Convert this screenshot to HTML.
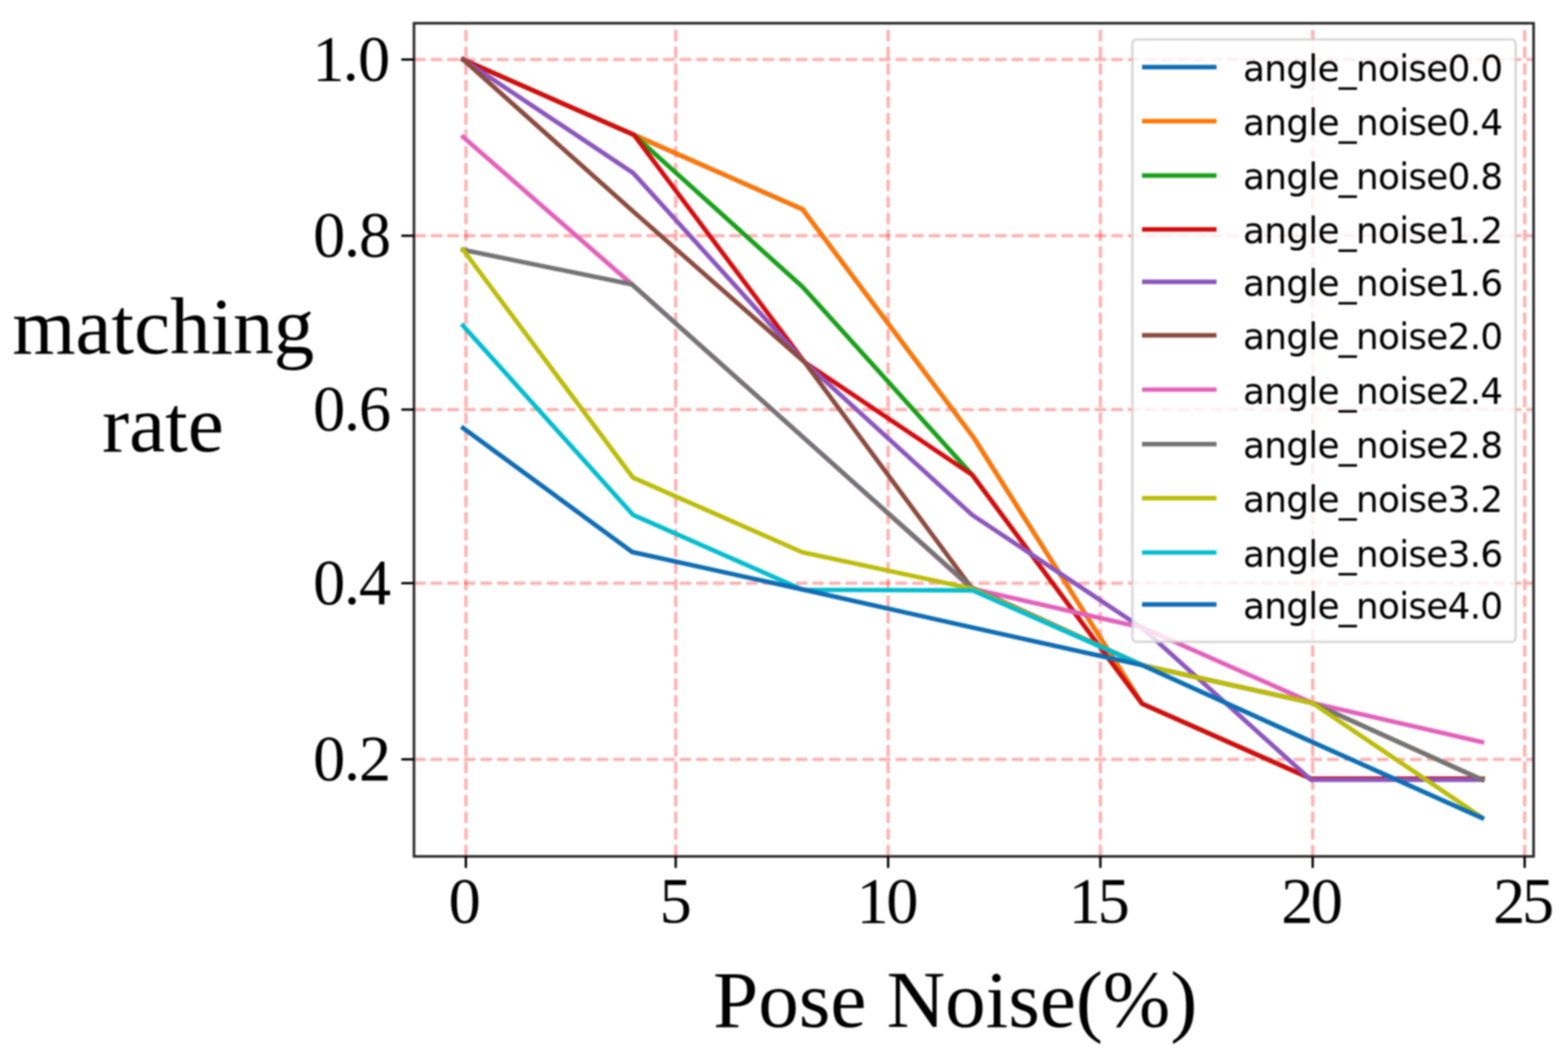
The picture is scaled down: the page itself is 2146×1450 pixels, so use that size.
<!DOCTYPE html><html><head><meta charset="utf-8"><style>html,body{margin:0;padding:0;background:#fff;overflow:hidden}svg{display:block;filter:blur(0.8px)}</style></head><body>
<svg width="2146" height="1450" viewBox="0 0 2146 1450">
<rect width="2146" height="1450" fill="#fff"/>
<g stroke="rgba(255,0,0,0.3)" stroke-width="4.6" fill="none">
<line x1="566.6" y1="81.5" x2="2098.9" y2="81.5" stroke-dasharray="15.86 6.86"/>
<line x1="566.6" y1="322.8" x2="2098.9" y2="322.8" stroke-dasharray="15.86 6.86"/>
<line x1="566.6" y1="560.8" x2="2098.9" y2="560.8" stroke-dasharray="15.86 6.86"/>
<line x1="566.6" y1="798.5" x2="2098.9" y2="798.5" stroke-dasharray="15.86 6.86"/>
<line x1="566.6" y1="1039.7" x2="2098.9" y2="1039.7" stroke-dasharray="15.86 6.86"/>
<line x1="637.6" y1="1172.6" x2="637.6" y2="31.8" stroke-dasharray="15.9 6.87"/>
<line x1="924.8" y1="1172.6" x2="924.8" y2="31.8" stroke-dasharray="15.9 6.87"/>
<line x1="1215.5" y1="1172.6" x2="1215.5" y2="31.8" stroke-dasharray="15.9 6.87"/>
<line x1="1506" y1="1172.6" x2="1506" y2="31.8" stroke-dasharray="15.9 6.87"/>
<line x1="1796.55" y1="1172.6" x2="1796.55" y2="31.8" stroke-dasharray="15.9 6.87"/>
<line x1="2086.7" y1="1172.6" x2="2086.7" y2="31.8" stroke-dasharray="15.9 6.87"/>
</g>
<g fill="none" stroke-width="6.2" stroke-linecap="square" stroke-linejoin="round">
<path stroke="#0f6db4" d="M633.8 81.5 L867.6 184.7 L1098.5 286.7 L1332.8 599.5 L1563 963.5 L1794 1066 L2029 1066"/>
<path stroke="#ff7806" d="M633.8 81.5 L867.6 184.7 L1098.5 286.7 L1332.8 599.5 L1563 963.5 L1794 1066 L2029 1066"/>
<path stroke="#1aa01a" d="M633.8 81.5 L867.6 184.7 L1098.5 392.9 L1330.6 650.2 L1563 963.5 L1794 1066 L2029 1066"/>
<path stroke="#d60c10" d="M633.8 81.5 L867.6 184.7 L1101.4 496.1 L1330.6 650.2 L1563 963.5 L1794 1066 L2029 1066"/>
<path stroke="#8c56bd" d="M633.8 81.5 L866.6 236.9 L1101.4 496.1 L1330.5 705 L1564 860.5 L1794 1067.6 L2029 1067.6"/>
<path stroke="#8c4b3e" d="M633.8 81.5 L866 289 L1101.4 496.1 L1329 804 L1564 911 L1796 962.5 L2028.3 1067.6"/>
<path stroke="#e361bb" d="M633.8 187.5 L865 389.4 L1097 596.7 L1330 806 L1564 859.5 L1796 962.5 L2028.3 1016"/>
<path stroke="#747474" d="M633.8 342 L865 389.4 L1097 596.7 L1329 804 L1564 911 L1796 962.5 L2028.3 1067.6"/>
<path stroke="#bcbd0a" d="M633.8 342 L866.2 653.8 L1097.6 756 L1330 806 L1564 911 L1796 962.5 L2028.3 1119.3"/>
<path stroke="#05bccf" d="M633.8 446 L866.2 704.8 L1098.5 807.5 L1331.3 808.5 L1564 911 L1796 1016 L2028.3 1120"/>
<path stroke="#0f6db4" d="M633.8 586 L865.5 755.9 L1098.5 807.1 L1330 859 L1564 911 L1796 1016 L2028.3 1120"/>
</g>
<rect x="566.6" y="31.8" width="1532.3" height="1140.8" fill="none" stroke="#262626" stroke-width="3.5" stroke-linejoin="miter"/>
<g stroke="#000" stroke-width="3.2">
<line x1="549.3" y1="81.5" x2="566.6" y2="81.5"/>
<line x1="549.3" y1="322.8" x2="566.6" y2="322.8"/>
<line x1="549.3" y1="560.8" x2="566.6" y2="560.8"/>
<line x1="549.3" y1="798.5" x2="566.6" y2="798.5"/>
<line x1="549.3" y1="1039.7" x2="566.6" y2="1039.7"/>
<line x1="637.6" y1="1172.6" x2="637.6" y2="1188.4"/>
<line x1="924.8" y1="1172.6" x2="924.8" y2="1188.4"/>
<line x1="1215.5" y1="1172.6" x2="1215.5" y2="1188.4"/>
<line x1="1506" y1="1172.6" x2="1506" y2="1188.4"/>
<line x1="1796.55" y1="1172.6" x2="1796.55" y2="1188.4"/>
<line x1="2086.7" y1="1172.6" x2="2086.7" y2="1188.4"/>
</g>
<g font-family="'Liberation Serif', 'Times New Roman', serif" font-size="88" fill="#000">
<text x="427.5 469 490" y="110.1">1.0</text>
<text x="428.4 470.8 491.3" y="351.4">0.8</text>
<text x="428.4 470.8 491.3" y="589.4">0.6</text>
<text x="428.4 470.8 491.3" y="827.1">0.4</text>
<text x="428.4 470.8 491.3" y="1068.3">0.2</text>
<text x="614" y="1263">0</text>
<text x="902.7" y="1263">5</text>
<text x="1172.3 1213" y="1263">10</text>
<text x="1462.6 1502.2" y="1263">15</text>
<text x="1753.4 1794" y="1263">20</text>
<text x="2043.6 2083" y="1263">25</text>
</g>
<g font-family="'Liberation Serif', 'Times New Roman', serif" font-size="111" fill="#000">
<text x="223.5" y="483.7" text-anchor="middle">matching</text>
<text x="223" y="617.8" text-anchor="middle">rate</text>
<text x="1307.4" y="1406" text-anchor="middle">Pose Noise(%)</text>
</g>
<rect x="1549.8" y="54" width="524.6" height="824.8" rx="6" ry="6" fill="#fff" fill-opacity="0.8" stroke="#cccccc" stroke-opacity="0.8" stroke-width="3.2"/>
<g font-family="'DejaVu Sans', sans-serif" font-size="49" fill="#000">
<line x1="1563" y1="91.9" x2="1665" y2="91.9" stroke="#0f6db4" stroke-width="6.2"/>
<text x="1701.3" y="110.9" textLength="355.9" lengthAdjust="spacing">angle_noise0.0</text>
<line x1="1563" y1="165.9" x2="1665" y2="165.9" stroke="#ff7806" stroke-width="6.2"/>
<text x="1701.3" y="184.9" textLength="355.9" lengthAdjust="spacing">angle_noise0.4</text>
<line x1="1563" y1="240.3" x2="1665" y2="240.3" stroke="#1aa01a" stroke-width="6.2"/>
<text x="1701.3" y="259.3" textLength="355.9" lengthAdjust="spacing">angle_noise0.8</text>
<line x1="1563" y1="314.2" x2="1665" y2="314.2" stroke="#d60c10" stroke-width="6.2"/>
<text x="1701.3" y="333.2" textLength="355.9" lengthAdjust="spacing">angle_noise1.2</text>
<line x1="1563" y1="385.8" x2="1665" y2="385.8" stroke="#8c56bd" stroke-width="6.2"/>
<text x="1701.3" y="404.8" textLength="355.9" lengthAdjust="spacing">angle_noise1.6</text>
<line x1="1563" y1="459.1" x2="1665" y2="459.1" stroke="#8c4b3e" stroke-width="6.2"/>
<text x="1701.3" y="478.1" textLength="355.9" lengthAdjust="spacing">angle_noise2.0</text>
<line x1="1563" y1="533.5" x2="1665" y2="533.5" stroke="#e361bb" stroke-width="6.2"/>
<text x="1701.3" y="552.5" textLength="355.9" lengthAdjust="spacing">angle_noise2.4</text>
<line x1="1563" y1="608.1" x2="1665" y2="608.1" stroke="#747474" stroke-width="6.2"/>
<text x="1701.3" y="627.1" textLength="355.9" lengthAdjust="spacing">angle_noise2.8</text>
<line x1="1563" y1="682.1" x2="1665" y2="682.1" stroke="#bcbd0a" stroke-width="6.2"/>
<text x="1701.3" y="701.1" textLength="355.9" lengthAdjust="spacing">angle_noise3.2</text>
<line x1="1563" y1="756.5" x2="1665" y2="756.5" stroke="#05bccf" stroke-width="6.2"/>
<text x="1701.3" y="775.5" textLength="355.9" lengthAdjust="spacing">angle_noise3.6</text>
<line x1="1563" y1="827.7" x2="1665" y2="827.7" stroke="#0f6db4" stroke-width="6.2"/>
<text x="1701.3" y="846.7" textLength="355.9" lengthAdjust="spacing">angle_noise4.0</text>
</g>
</svg></body></html>
